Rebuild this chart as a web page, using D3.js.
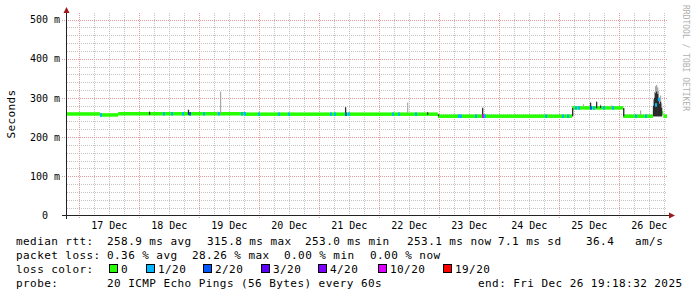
<!DOCTYPE html>
<html>
<head>
<meta charset="utf-8">
<script src="https://cdn.jsdelivr.net/npm/d3@7"></script>
<style>
  body { margin: 0; background: #fff; }
  text { font-family: "DejaVu Sans Mono", monospace; }
</style>
</head>
<body>
<div id="vis"></div>
<script>
// time window of the graph (UTC)
const timeRange = ["2025-12-16 19:18:32", "2025-12-26 19:18:32"];

// axis labels
const yTicks = [0, 100, 200, 300, 400, 500];
const yTickLabels = ["0\u00a0\u00a0", "100 m", "200 m", "300 m", "400 m", "500 m"];
const dayTicks = ["17 Dec", "18 Dec", "19 Dec", "20 Dec", "21 Dec", "22 Dec", "23 Dec", "24 Dec", "25 Dec", "26 Dec"];

// median rtt (ms), step values starting at these times
const medTime = ["12-16 19:18", "12-17 08:30", "12-17 15:45", "12-19 18:30", "12-22 23:40", "12-25 05:20",
  "12-26 01:45", "12-26 13:40", "12-26 14:30", "12-26 15:20", "12-26 16:10", "12-26 17:00", "12-26 17:50"];
const medValue = [259, 256.5, 259.5, 258.5, 253.3, 274.5, 253.3, 262, 282, 296, 276, 262, 253.3];

// packet loss (count of 20) at single samples
const lossTime = ["12-17 08:30", "12-18 09:40", "12-18 12:55", "12-18 17:20", "12-18 20:05", "12-19 01:45",
  "12-19 07:40", "12-19 16:55", "12-19 18:05", "12-19 23:40", "12-20 07:40", "12-20 11:40", "12-21 04:30",
  "12-21 06:05", "12-21 10:30", "12-21 11:40", "12-22 05:20", "12-22 07:40", "12-22 14:30", "12-23 07:40",
  "12-23 08:30", "12-23 14:30", "12-23 17:20", "12-23 18:05", "12-24 18:30", "12-25 01:20", "12-25 03:20",
  "12-25 06:30", "12-25 07:40", "12-25 12:30", "12-25 13:40", "12-25 17:40", "12-25 21:20", "12-26 06:30",
  "12-26 10:30", "12-26 14:30", "12-26 15:40"];
const lossCount = [1, 1, 1, 1, 2, 1,
  1, 1, 1, 1, 1, 1, 1,
  1, 2, 1, 1, 1, 1, 1,
  1, 1, 10, 1, 1, 1, 1,
  1, 1, 2, 1, 1, 1, 1,
  1, 1, 1];

// smoke (spread of the 20 pings) where it shows above the median
const smokeTime = ["12-18 04:05", "12-18 19:40", "12-19 07:20", "12-19 08:30", "12-19 16:55", "12-21 10:30",
  "12-22 11:20", "12-22 19:20", "12-22 23:40", "12-23 17:20", "12-25 05:20", "12-25 09:40", "12-25 12:30",
  "12-25 14:55", "12-25 16:30", "12-25 20:55", "12-26 01:45", "12-26 08:30", "12-26 13:40", "12-26 14:05",
  "12-26 14:30", "12-26 14:55", "12-26 15:20", "12-26 15:40", "12-26 16:05", "12-26 16:30", "12-26 16:55"];
const smokeLow = [257, 257, 258, 261, 257, 255,
  261, 257, 253, 253, 253, 277, 274,
  274, 274, 274, 253, 256, 253, 253,
  253, 253, 253, 253, 253, 253, 253];
const smokeHigh = [266, 271, 265, 316, 264, 277,
  288, 264, 259, 276, 275, 284, 290,
  292, 283, 281, 275, 268, 296, 315,
  330, 333, 327, 318, 300, 306, 286];
const smokeCore = [264, 269, 257, 261, 262, 276,
  261, 263, 258, 274, 274, 277, 287,
  289, 280, 274, 274, 256, 280, 300,
  312, 316, 310, 300, 285, 290, 275];

// loss colour legend
const lossKeys = [0, 1, 2, 3, 4, 10, 19];
const lossLabels = ["0", "1/20", "2/20", "3/20", "4/20", "10/20", "19/20"];
const lossColors = ["#26ff00", "#00b8ff", "#0059ff", "#5e00ff", "#7e00ff", "#dd00ff", "#ff0000"];

// summary numbers
const rttStats = [["258.9", "avg"], ["315.8", "max"], ["253.0", "min"], ["253.1", "now"], ["7.1", "sd"]];
const lossStats = [["0.36", "avg"], ["28.26", "max"], ["0.00", "min"], ["0.00", "now"]];
const amPerSec = "36.4";

let width = 697, height = 297;

let svg = d3.select('#vis')
  .append('svg')
  .attr('width', width)
  .attr('height', height)
  .style('background-color', '#fff');

const parseFull = d3.utcParse('%Y-%m-%d %H:%M:%S');
const parseShort = s => d3.utcParse('%Y-%m-%d %H:%M')('2025-' + s);
const parseDay = s => d3.utcParse('%d %b %Y %H:%M')(s + ' 2025 12:00');

const t0 = parseFull(timeRange[0]), t1 = parseFull(timeRange[1]);
const plotTop = 13;

let x = d3.scaleUtc().domain([t0, t1]).range([67, 667]);
let y = d3.scaleLinear().domain([0, 500]).range([215.5, 19.5]);

// grid
let grid = svg.append('g').attr('stroke-dasharray', '1,1').attr('stroke-width', 1);

grid.selectAll('.hmin')
  .data(d3.range(20, 520, 20).filter(v => v % 100 != 0 && y(v) > plotTop))
  .join('line')
  .attr('x1', 67).attr('x2', 667)
  .attr('y1', d => Math.round(y(d)) + 0.5).attr('y2', d => Math.round(y(d)) + 0.5)
  .attr('stroke', '#c4c4c4');

grid.selectAll('.vmin')
  .data(d3.utcHour.every(6).range(t0, t1).filter(d => d.getUTCHours() != 0))
  .join('line')
  .attr('x1', d => Math.round(x(d)) + 0.5).attr('x2', d => Math.round(x(d)) + 0.5)
  .attr('y1', plotTop).attr('y2', 215)
  .attr('stroke', '#c4c4c4');

grid.selectAll('.hmaj')
  .data(yTicks.filter(v => v > 0))
  .join('line')
  .attr('x1', 62).attr('x2', 667)
  .attr('y1', d => Math.round(y(d)) + 0.5).attr('y2', d => Math.round(y(d)) + 0.5)
  .attr('stroke', '#e29a9a');

grid.selectAll('.vmaj')
  .data(d3.utcDay.range(t0, t1))
  .join('line')
  .attr('x1', d => Math.round(x(d)) + 0.5).attr('x2', d => Math.round(x(d)) + 0.5)
  .attr('y1', plotTop).attr('y2', 218)
  .attr('stroke', '#e29a9a');

// median band, one rect per step
let medData = medTime.map((t, i) => ({
  t: parseShort(t),
  t2: i + 1 < medTime.length ? parseShort(medTime[i + 1]) : t1,
  v: medValue[i]
}));
const medAt = t => {
  let m = medData[0].v;
  medData.forEach(d => { if (d.t <= t) m = d.v; });
  return m;
};

const band = 3.5;
svg.append('g').selectAll('rect')
  .data(medData)
  .join('rect')
  .attr('x', d => x(d.t))
  .attr('width', d => x(d.t2) - x(d.t))
  .attr('y', d => y(d.v) - band / 2)
  .attr('height', band)
  .attr('fill', lossColors[0]);

// smoke
const stepMs = 24 * 60 * 1000;
let smokeData = smokeTime.map((t, i) => ({
  t: parseShort(t), lo: smokeLow[i], hi: smokeHigh[i], core: smokeCore[i]
}));
let smoke = svg.append('g');
smoke.selectAll('.outer')
  .data(smokeData)
  .join('rect')
  .attr('x', d => x(d.t))
  .attr('width', d => Math.max(1.2, x(new Date(+d.t + stepMs)) - x(d.t)))
  .attr('y', d => y(d.hi))
  .attr('height', d => y(d.lo) - y(d.hi))
  .attr('fill', '#a8a8a8');
smoke.selectAll('.core')
  .data(smokeData.filter(d => d.core > d.lo))
  .join('rect')
  .attr('x', d => x(d.t))
  .attr('width', d => Math.max(1.2, x(new Date(+d.t + stepMs)) - x(d.t)))
  .attr('y', d => y(d.core))
  .attr('height', d => y(d.lo) - y(d.core))
  .attr('fill', '#2a2a2a');

// loss colour on the median
let lossData = lossTime.map((t, i) => ({ t: parseShort(t), n: lossCount[i] }));
const lossColor = n => {
  let c = lossColors[0];
  lossKeys.forEach((k, i) => { if (n >= k) c = lossColors[i]; });
  return c;
};
svg.append('g').selectAll('rect')
  .data(lossData)
  .join('rect')
  .attr('x', d => x(d.t))
  .attr('width', 2)
  .attr('y', d => y(medAt(d.t)) - band / 2)
  .attr('height', band)
  .attr('fill', d => lossColor(d.n));

// axes
svg.append('line')
  .attr('x1', 62).attr('x2', 669)
  .attr('y1', 215.5).attr('y2', 215.5)
  .attr('stroke', '#222');
svg.append('line')
  .attr('x1', 66.5).attr('x2', 66.5)
  .attr('y1', 219).attr('y2', 12)
  .attr('stroke', '#222');
svg.append('path')
  .attr('d', 'M669,212.5 L675,215.5 L669,218.5 Z')
  .attr('fill', '#9e1a1a');
svg.append('path')
  .attr('d', 'M63.5,13 L66.5,7 L69.5,13 Z')
  .attr('fill', '#9e1a1a');

let yAxis = svg.append('g')
  .attr('transform', 'translate(67,0)')
  .call(d3.axisLeft(y).tickValues(yTicks).tickSize(0).tickPadding(7)
    .tickFormat((d, i) => yTickLabels[i]));
yAxis.select('.domain').remove();
yAxis.selectAll('text')
  .style('font-family', '"DejaVu Sans Mono", monospace')
  .style('font-size', '10px')
  .attr('fill', '#000');

let xAxis = svg.append('g')
  .attr('transform', 'translate(0,215.5)')
  .call(d3.axisBottom(x).tickValues(dayTicks.map(parseDay)).tickSize(0).tickPadding(6)
    .tickFormat((d, i) => dayTicks[i]));
xAxis.select('.domain').remove();
xAxis.selectAll('text')
  .style('font-family', '"DejaVu Sans Mono", monospace')
  .style('font-size', '10px')
  .attr('fill', '#000');

// titles
svg.append('text')
  .attr('transform', 'translate(15,114) rotate(-90)')
  .attr('text-anchor', 'middle')
  .style('font-size', '11px')
  .style('letter-spacing', '0.4px')
  .text('Seconds');

svg.append('text')
  .attr('transform', 'translate(683,5) rotate(90)')
  .style('font-size', '8px')
  .attr('fill', '#b0b0b0')
  .text('RRDTOOL / TOBI OETIKER');

// legend
let legend = svg.append('g')
  .style('font-size', '11px')
  .style('letter-spacing', '0.43px')
  .attr('fill', '#000');

const put = (xx, yy, s) => legend.append('text').attr('x', xx).attr('y', yy)
  .style('white-space', 'pre').text(s);

const row = [245, 259, 273, 287];
put(16, row[0], 'median rtt:');
[107, 207, 305, 407, 498].forEach((xx, i) =>
  put(xx, row[0], rttStats[i][0] + ' ms ' + rttStats[i][1]));
put(586, row[0], amPerSec);
put(635, row[0], 'am/s');

put(16, row[1], 'packet loss:');
[107, 192, 284, 370].forEach((xx, i) =>
  put(xx, row[1], lossStats[i][0] + ' % ' + lossStats[i][1]));

put(16, row[2], 'loss color:');
const boxX = [109, 146, 203, 261, 318, 378, 443];
legend.selectAll('rect')
  .data(lossLabels)
  .join('rect')
  .attr('x', (d, i) => boxX[i] + 0.5)
  .attr('y', 264.5)
  .attr('width', 8)
  .attr('height', 8)
  .attr('fill', (d, i) => lossColors[i])
  .attr('stroke', '#000');
lossLabels.forEach((s, i) => put(boxX[i] + 12, row[2], s));

put(16, row[3], 'probe:');
put(107, row[3], '20 ICMP Echo Pings (56 Bytes) every 60s');
put(478, row[3], 'end: Fri Dec 26 19:18:32 2025');
</script>
</body>
</html>
